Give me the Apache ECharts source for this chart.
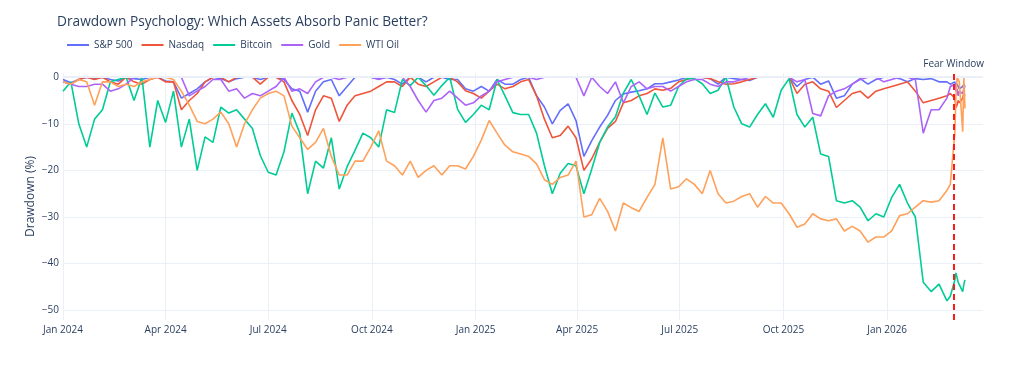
<!DOCTYPE html>
<html><head><meta charset="utf-8">
<script src="https://cdn.jsdelivr.net/npm/echarts@6/dist/echarts.min.js"></script>
<style>html,body{margin:0;padding:0;background:#fff}#c{width:1024px;height:366px}</style>
</head><body><div id="c"></div>
<script>
// ---- data ----
const seriesNames = ['S&P 500', 'Nasdaq', 'Bitcoin', 'Gold', 'WTI Oil'];
const seriesColors = ['#636efa', '#ef553b', '#00cc96', '#ab63fa', '#ffa15a'];
const weeklyStart = [2024, 0, 1];   // weekly observations, Mondays
const weeklyCount = 113;            // 2024-01-01 .. 2026-02-23
const tailDates = ['2026-02-26','2026-03-02','2026-03-03','2026-03-04','2026-03-05','2026-03-06','2026-03-09','2026-03-10','2026-03-11'];
const quarterTicks = ['2024-01-01','2024-04-01','2024-07-01','2024-10-01','2025-01-01','2025-04-01','2025-07-01','2025-10-01','2026-01-01'];
const monthNames = ['Jan','Feb','Mar','Apr','May','Jun','Jul','Aug','Sep','Oct','Nov','Dec'];
const yTicks = [-50, -40, -30, -20, -10, 0];
const fearDate = '2026-03-01';
const xMin = '2024-01-01', xMax = '2026-03-27';

const sp500 = [
-0.5,-1.2,-0.5,0,-0.3,0,-0.5,-0.8,0,-0.3,
-0.5,0,0,-0.8,-1,-4.5,-3.5,-2.5,-1,0,
-0.3,-1,-0.3,0,0,-0.5,0,0,-0.5,-2.5,
-3,-7.5,-3,-1,-0.5,-4,-2,0,0,0,
-0.3,0,-0.5,-1.5,0,0,-1,0,0,-0.5,
-0.5,-2.5,-3,-2,-3,-0.5,-1.5,-1.5,-0.5,0,
-4,-6.4,-10,-7.1,-5.7,-9.3,-17,-13.6,-10.7,-8.2,
-5,-3.6,-3.2,-2.9,-2.5,-1.4,-1.4,-1,-0.6,0,
0,0,-0.3,-1.5,0,-0.3,-0.5,-0.7,0,0,
0,0,0,-2,-0.5,0,-1.5,-0.8,-4.5,-4,
-1.5,-0.3,-1.5,-0.5,0,0,-0.3,-1,-0.3,-0.5,
-0.3,-1,-1];
const sp500Tail = [-1.5,-1,-2,-1.5,-2,-2.5,-2,-1.5,-2];

const nasdaq = [
-1,-1.5,-0.5,0,-0.5,0,-1,-1.5,0,-1,
-1.5,-0.5,0,-1,-1,-7,-5,-3.5,-1,0,
0,-1,0,0,0,-1.5,0,0,-1,-5,
-8,-12.5,-7,-4,-4.5,-9.5,-6,-4,-3.5,-3,
-2,-1,-1,-2,0,-1.5,-2,-1,0,0,
-1,-2.9,-3.5,-4.5,-3,-1.5,-2.5,-2,-1,-0.5,
-4,-9,-13,-12.5,-10.5,-13,-20,-17.5,-14,-11,
-9.5,-5.5,-5,-4,-3.5,-2.5,-2.8,-2.4,-1,-0.5,
0,0,-0.3,-1,-1.5,-1.4,-1,-0.5,0,0,
0,0,0,-3.5,-1.5,-1,-2.5,-3,-6.5,-5,
-3.5,-3,-4.5,-3,-2.5,-2,-1.5,-1,-3,-5.5,
-5,-4.5,-4];
const nasdaqTail = [-3.5,-4.5,-6.5,-6,-5,-5.5,-4.5,-3.5,-4];

const bitcoin = [
-3,-1,-10,-15,-9,-7,-1,-0.5,0,-5,
0,-15,-5,-9.7,-3,-15,-9,-20,-12.8,-14,
-6.4,-7.7,-7,-9,-11,-16.8,-20.4,-21,-16,-7.7,
-12,-25,-18,-19.5,-13,-24,-19.2,-15.7,-12,-13,
-15,-7,-7.6,-0.5,-1.8,0,-1.8,-3.9,-1.8,0,
-6.9,-9.7,-8,-6,-7,-0.5,-4,-7.6,-8,-8,
-12,-19,-25,-20.6,-18.5,-19,-25,-19.7,-14,-10.7,
-8.5,-3.4,-0.5,-4,-8,-3.4,-6.4,-6,-2,-0.3,
-0.3,-1.4,-3.5,-2.8,0,-6.4,-10,-10.7,-8,-5.7,
-8.6,-2.8,-0.3,-8,-10.7,-8.6,-16.5,-17,-26.5,-27,
-26.5,-27.9,-30.8,-29.3,-30,-25.8,-23,-27,-30,-44,
-46,-44.4,-48];
const bitcoinTail = [-47,-43.5,-42,-43,-44,-44.5,-46,-44.5,-43.5];

const gold = [
-1,-1.5,-2,-2,-1.5,-1.5,-3,-2.5,-1.5,0,
0,0,0,0,0,0,-4,-3,-2,-0.5,
-0.5,-3,-2.5,-4.5,-3.5,-4,-3,-2,0,-3,
-2.5,-3.5,-1,0,0,-0.5,0,0,0,0,
-0.5,0,0,0,-2,-5,-7.5,-5,-4.5,-3,
-4.5,-6,-5.5,-4,-3,-1,-0.5,0,0,0,
-0.5,0,0,0,0,0,-4,0,-2,-3.5,
-1,-5.5,-2,-1,-2.5,-2,-2,-3,-2,-1,
-0.5,-0.5,-1.5,-2,-1,-1,-0.5,0,0,0,
0,0,0,-1,-0.5,-7.8,-8.3,-4,-3,-2.5,
-1.5,-0.5,0,0,-1,-0.5,0,0,-0.5,-12,
-7,-7,-4.5];
const goldTail = [-2,-1.5,-3,-2.5,-4,-3,-3.5,-2.5,-2];

const wti = [
-1,-1.5,-0.5,-1,-6,-1,-1,-2,-1.5,-2,
-1,-0.5,0,0,-0.5,-3,-6,-9.5,-10,-9,
-7.5,-10,-15,-10,-7,-4.5,-3.5,-3,-4,-10.5,
-13,-15.5,-14,-11,-17,-21,-21,-18,-18,-15,
-11.5,-18,-19,-21,-18,-21.5,-20,-19,-21,-19,
-19,-19.7,-17,-13.5,-9.3,-12,-14.6,-16,-16.5,-17,
-18.6,-22,-23,-21.5,-21,-18,-30,-29.5,-26,-28.8,
-33,-27,-28,-28.8,-25.8,-23,-13,-24,-23.5,-21.8,
-23,-25,-20,-25,-27,-26.6,-25.6,-25,-27.9,-25.6,
-27,-27,-29.3,-32.2,-31.5,-29.3,-30.4,-30.8,-30.4,-33,
-32,-33,-35.4,-34.3,-34.3,-33,-29.7,-29.3,-27.9,-26.5,
-26.8,-26.5,-24.3];
const wtiTail = [-23,-12,-4,0,0,-1,-11.7,0,-6.7];

// ---- build ----
function pad(n){return (n<10?'0':'')+n;}
const ts = s => new Date(s + 'T00:00:00').getTime();
const weeklyDates = [];
for (let i = 0; i < weeklyCount; i++) {
  const d = new Date(weeklyStart[0], weeklyStart[1], weeklyStart[2] + 7*i);
  weeklyDates.push(d.getFullYear()+'-'+pad(d.getMonth()+1)+'-'+pad(d.getDate()));
}
const allDates = weeklyDates.concat(tailDates);
function toPairs(weekly, tail){ const v = weekly.concat(tail); return allDates.map((d,i)=>[ts(d), v[i]]); }
const values = [[sp500,sp500Tail],[nasdaq,nasdaqTail],[bitcoin,bitcoinTail],[gold,goldTail],[wti,wtiTail]];

const FONT = '"Open Sans", Verdana, Arial, sans-serif';
const TXT = '#2a3f5f';
const GRID = '#ebf0f8';

const series = seriesNames.map((n, k) => ({
  name: n, type: 'line', showSymbol: false, symbol: 'none',
  data: toPairs(values[k][0], values[k][1]),
  lineStyle: { width: 1.6, color: seriesColors[k] },
  itemStyle: { color: seriesColors[k] },
  emphasis: { disabled: true }, z: 2
}));
series.unshift({
  name: '_zero', type: 'line', data: [], z: 1, silent: true,
  markLine: { symbol: 'none', silent: true, label: { show: false },
    lineStyle: { color: GRID, width: 2, type: 'solid' }, data: [{ yAxis: 0 }] }
});
series.push({
  name: '_fear', type: 'line', data: [], z: 10, silent: true,
  markLine: { symbol: 'none', silent: true,
    label: { show: true, position: 'end', formatter: 'Fear Window', fontFamily: FONT, fontSize: 10, color: TXT, distance: 4 },
    lineStyle: { color: '#ff1a1a', width: 2, type: [6, 4] }, data: [{ xAxis: ts(fearDate) }] }
});

const chart = echarts.init(document.getElementById('c'), null, { renderer: 'canvas' });
chart.setOption({
  animation: false,
  backgroundColor: '#ffffff',
  color: seriesColors,
  title: { text: 'Drawdown Psychology: Which Assets Absorb Panic Better?', left: 57, top: 15, padding: 0,
    textStyle: { fontFamily: FONT, fontSize: 13.7, fontWeight: 'normal', color: TXT } },
  legend: { data: seriesNames, left: 67, top: 40, padding: 0, icon: 'rect', itemWidth: 22, itemHeight: 2, itemGap: 9,
    textStyle: { fontFamily: FONT, fontSize: 10, color: TXT } },
  grid: { left: 63, right: 41, top: 73, bottom: 46 },
  xAxis: {
    type: 'value', min: ts(xMin), max: ts(xMax),
    axisLine: { show: false },
    axisTick: { show: false, customValues: quarterTicks.map(ts) },
    axisLabel: { customValues: quarterTicks.map(ts), fontFamily: FONT, fontSize: 10, color: TXT, margin: 5,
      formatter: v => { const d = new Date(v); return monthNames[d.getMonth()] + ' ' + d.getFullYear(); } },
    splitLine: { show: true, lineStyle: { color: GRID, width: 1 } }
  },
  yAxis: {
    type: 'value', min: -52.1, max: 0.9,
    name: 'Drawdown (%)', nameLocation: 'middle', nameGap: 26, nameMoveOverlap: false,
    nameTextStyle: { fontFamily: FONT, fontSize: 12, color: TXT },
    axisLine: { show: false },
    axisTick: { show: false, customValues: yTicks },
    axisLabel: { customValues: yTicks, fontFamily: FONT, fontSize: 10, color: TXT, margin: 4,
      formatter: v => v < 0 ? '\u2212' + Math.abs(v) : String(v) },
    splitLine: { show: true, lineStyle: { color: GRID, width: 1 } }
  },
  series: series
});
</script></body></html>
